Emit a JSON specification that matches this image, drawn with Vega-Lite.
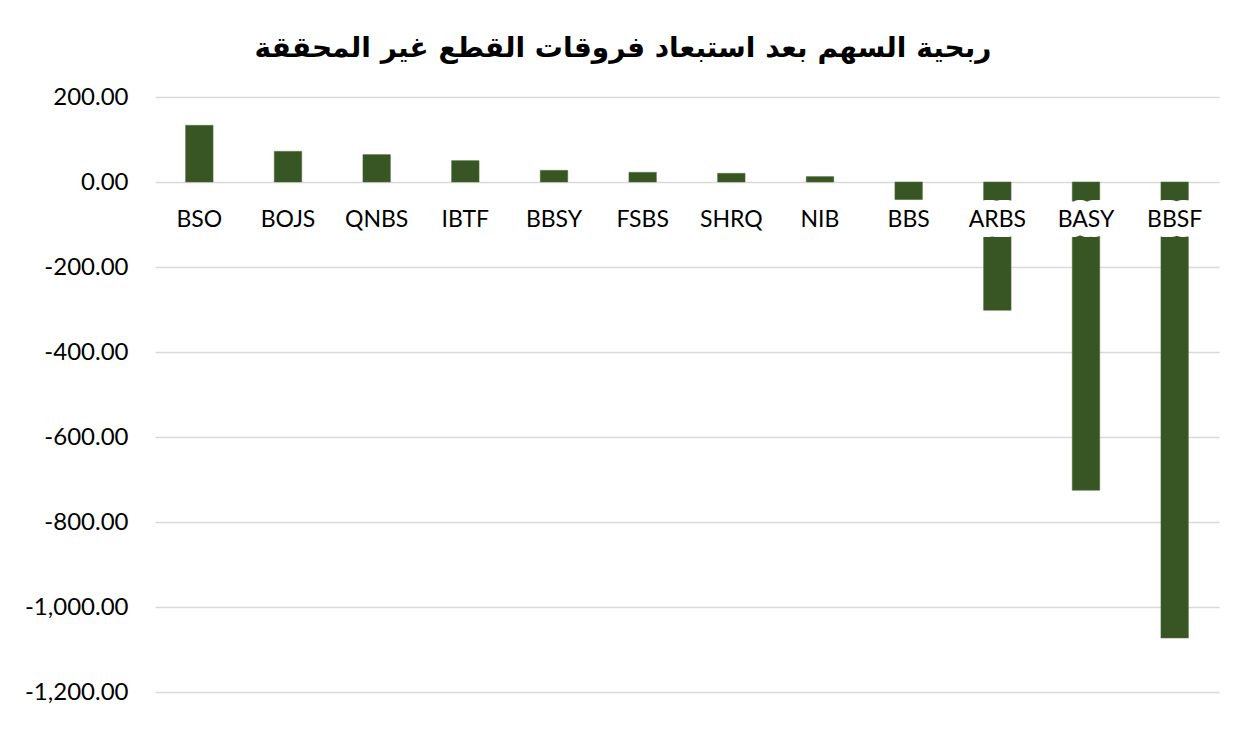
{
  "$schema": "https://vega.github.io/schema/vega-lite/v6.json",
  "width": 1064,
  "height": 595,
  "autosize": {"type": "none"},
  "padding": {"left": 155, "top": 97, "right": 15, "bottom": 63},
  "background": "white",
  "title": {
    "text": "ربحية السهم بعد استبعاد فروقات القطع غير المحققة",
    "font": "DejaVu Sans",
    "fontSize": 28,
    "fontWeight": "bold",
    "color": "black",
    "anchor": "middle",
    "dx": -64,
    "offset": 22
  },
  "data": {
    "values": [
      {"name": "BSO", "value": 133.4},
      {"name": "BOJS", "value": 72.2},
      {"name": "QNBS", "value": 64.5},
      {"name": "IBTF", "value": 50.3},
      {"name": "BBSY", "value": 27.5},
      {"name": "FSBS", "value": 22.8},
      {"name": "SHRQ", "value": 20.5},
      {"name": "NIB", "value": 12.7},
      {"name": "BBS", "value": -41.4},
      {"name": "ARBS", "value": -302},
      {"name": "BASY", "value": -725.4},
      {"name": "BBSF", "value": -1073}
    ]
  },
  "encoding": {
    "x": {
      "field": "name",
      "type": "nominal",
      "sort": null,
      "scale": {"paddingInner": 0.69, "paddingOuter": 0.345},
      "axis": null
    }
  },
  "layer": [
    {
      "mark": {"type": "bar", "color": "#375623", "stroke": "#4f6e3a", "strokeWidth": 0.5},
      "encoding": {
        "y": {
          "field": "value",
          "type": "quantitative",
          "scale": {"domain": [-1200, 200], "nice": false, "zero": true},
          "axis": {
            "title": null,
            "values": [200, 0, -200, -400, -600, -800, -1000, -1200],
            "labelExpr": "replace(format(datum.value, ',.2f'), '−', '-')",
            "domain": false,
            "ticks": false,
            "labelFont": "Lato",
            "labelFontSize": 24,
            "labelColor": "black",
            "labelPadding": 27,
            "gridColor": "#D9D9D9",
            "gridWidth": 1.5
          }
        }
      }
    },
    {
      "mark": {"type": "text", "font": "Lato", "fontSize": 23, "baseline": "alphabetic", "dy": 45, "fill": "white", "stroke": "white", "strokeWidth": 20, "strokeJoin": "round"},
      "encoding": {
        "y": {"datum": 0, "type": "quantitative"},
        "text": {"field": "name"}
      }
    },
    {
      "mark": {"type": "text", "font": "Lato", "fontSize": 23, "baseline": "alphabetic", "dy": 45, "color": "black"},
      "encoding": {
        "y": {"datum": 0, "type": "quantitative"},
        "text": {"field": "name"}
      }
    }
  ],
  "config": {"view": {"stroke": null}}
}
